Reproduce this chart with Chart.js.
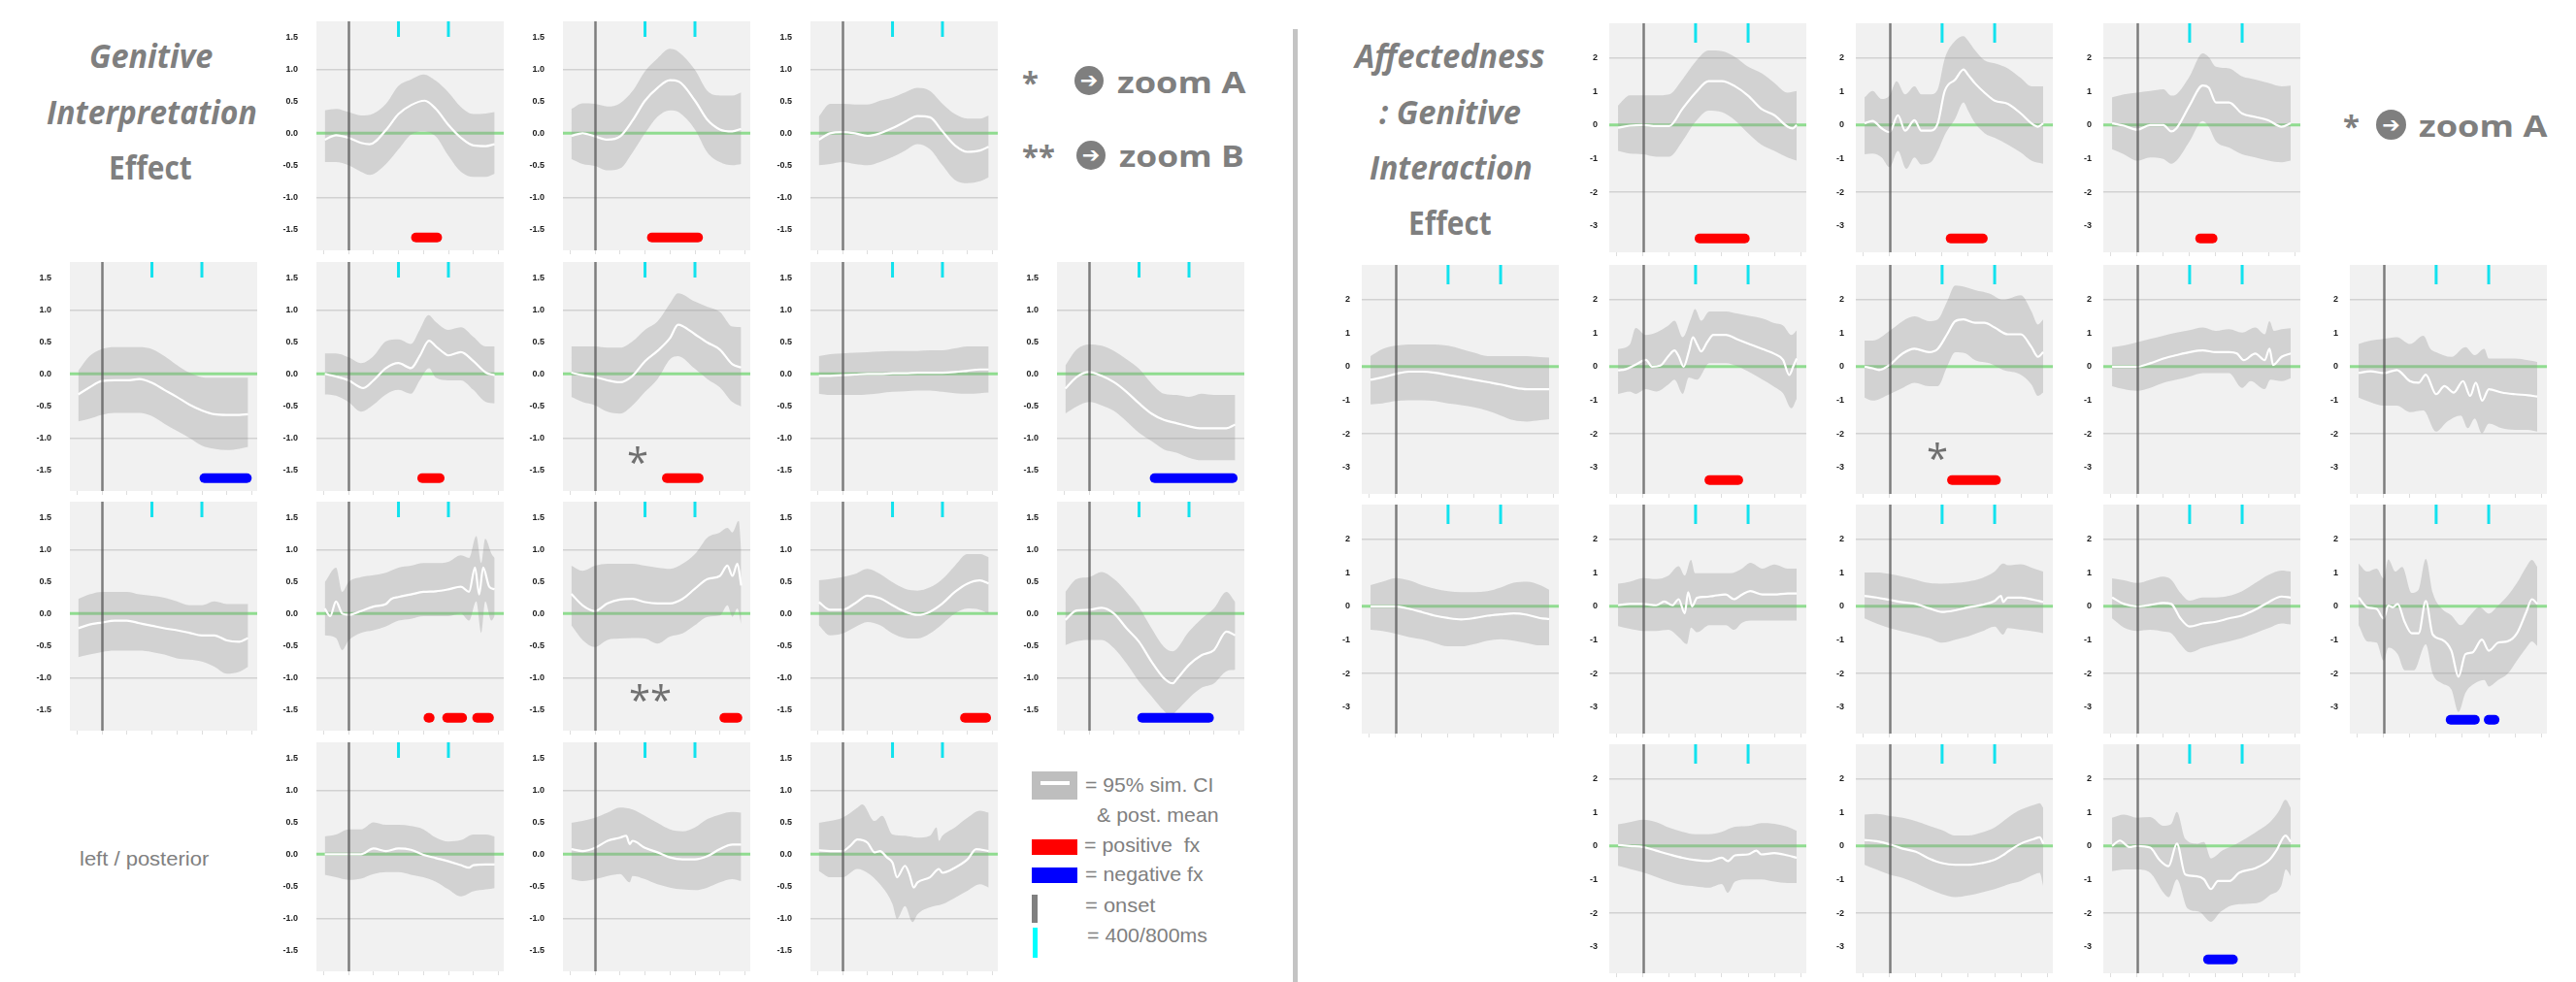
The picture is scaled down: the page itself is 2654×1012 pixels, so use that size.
<!DOCTYPE html>
<html><head><meta charset="utf-8">
<script src="https://cdn.jsdelivr.net/npm/chart.js@4.4.1/dist/chart.umd.min.js"></script>
<style>
html,body{margin:0;padding:0;background:#fff;}
body{width:2654px;height:1012px;position:relative;overflow:hidden;}
canvas{position:absolute;}
.t{position:absolute;white-space:nowrap;line-height:1;z-index:5;}
.arrowc{position:absolute;border-radius:50%;background:#7f7f7f;z-index:5;overflow:hidden;}
.arrowc span{position:absolute;left:0;top:0;width:100%;height:100%;display:flex;align-items:center;justify-content:center;color:#fff;font-family:'DejaVu Sans';font-weight:700;line-height:1;}
</style></head><body>
<script>
// ---------------- DATA ----------------
const G = [-190,-100,0,100,200,300,400,500,600,700,800,900,1000,1100,1170];
const zipG = ys => ys.map((y,i)=>[G[i],y]);

const xTickVals = [-200,0,200,400,600,800,1000,1200];
const leftTickVals = [-1.5,-1,-0.5,0,0.5,1,1.5];
const rightTickVals = [-3,-2,-1,0,1,2];
const leftGridVals = [-1,1];
const rightGridVals = [-2,2];
const cyanMarks = [400,800];
const onsetMs = 0;
const zeroLevel = 0;
const leftBarLevel = -1.63;
const rightBarLevel = -3.37;

// ---- Left panel: Genitive Interpretation Effect ----
const L01_mean=[[-190,-0.1],[-100,-0.03],[0,-0.07],[100,-0.15],[170,-0.17],[300,0.05],[400,0.3],[500,0.44],[610,0.51],[700,0.38],[800,0.13],[900,-0.07],[1000,-0.19],[1100,-0.2],[1170,-0.17]];
const L01_hi=[[-190,0.36],[-100,0.38],[0,0.33],[100,0.28],[200,0.31],[300,0.46],[400,0.74],[500,0.84],[600,0.92],[700,0.82],[800,0.64],[900,0.41],[1000,0.3],[1100,0.31],[1170,0.33]];
const L01_lo=[[-190,-0.45],[-100,-0.45],[0,-0.5],[100,-0.6],[170,-0.65],[300,-0.48],[400,-0.25],[500,-0.02],[600,0.03],[700,-0.05],[800,-0.35],[900,-0.6],[1000,-0.68],[1100,-0.68],[1170,-0.63]];
const L01_red=[[540,710]];

const L02_mean=[[-190,-0.04],[-100,0],[0,-0.05],[100,-0.1],[200,-0.05],[300,0.2],[400,0.51],[500,0.71],[600,0.83],[670,0.81],[800,0.51],[900,0.21],[1000,0.06],[1100,0.03],[1170,0.07]];
const L02_hi=[[-190,0.38],[-100,0.47],[0,0.46],[100,0.42],[200,0.47],[300,0.66],[400,0.97],[500,1.17],[600,1.32],[670,1.27],[800,0.99],[900,0.66],[1000,0.59],[1100,0.59],[1170,0.64]];
const L02_lo=[[-190,-0.4],[-100,-0.48],[0,-0.51],[100,-0.58],[200,-0.55],[300,-0.3],[400,0],[500,0.26],[600,0.36],[670,0.33],[800,0.06],[900,-0.3],[1000,-0.45],[1100,-0.5],[1170,-0.48]];
const L02_red=[[455,825]];

const L03_mean=zipG([-0.1,0,0.02,0,-0.04,0,0.08,0.18,0.27,0.25,0.03,-0.19,-0.29,-0.27,-0.21]);
const L03_hi=zipG([0.26,0.46,0.46,0.45,0.45,0.51,0.56,0.64,0.71,0.66,0.46,0.3,0.23,0.23,0.28]);
const L03_lo=zipG([-0.5,-0.48,-0.45,-0.48,-0.5,-0.45,-0.37,-0.27,-0.17,-0.25,-0.5,-0.73,-0.78,-0.75,-0.69]);

const L10_mean=zipG([-0.32,-0.21,-0.11,-0.1,-0.1,-0.08,-0.14,-0.25,-0.36,-0.48,-0.57,-0.63,-0.64,-0.64,-0.63]);
const L10_hi=zipG([0.05,0.28,0.39,0.42,0.42,0.42,0.39,0.28,0.14,0.02,-0.05,-0.06,-0.06,-0.06,-0.06]);
const L10_lo=zipG([-0.74,-0.7,-0.64,-0.61,-0.61,-0.61,-0.66,-0.78,-0.89,-1.0,-1.12,-1.17,-1.19,-1.17,-1.14]);
const L10_blue=[[820,1160]];

const L11_mean=[[-190,0],[-100,-0.04],[0,-0.1],[120,-0.22],[200,-0.1],[300,0.09],[400,0.17],[500,0.09],[570,0.28],[645,0.52],[700,0.43],[770,0.32],[800,0.29],[900,0.34],[1000,0.2],[1100,0.02],[1170,-0.02]];
const L11_hi=[[-190,0.32],[-100,0.32],[0,0.26],[100,0.17],[200,0.28],[300,0.51],[400,0.54],[500,0.47],[570,0.69],[640,0.92],[700,0.81],[800,0.69],[900,0.73],[1000,0.58],[1100,0.43],[1170,0.43]];
const L11_lo=[[-190,-0.32],[-100,-0.34],[0,-0.44],[100,-0.59],[200,-0.48],[300,-0.32],[400,-0.25],[500,-0.31],[570,-0.1],[645,0.09],[700,-0.06],[800,-0.1],[900,-0.1],[1000,-0.25],[1100,-0.44],[1170,-0.46]];
const L11_red=[[590,730]];

const L12_mean=[[-190,0.02],[-100,-0.02],[0,-0.05],[100,-0.1],[200,-0.13],[300,-0.03],[400,0.2],[500,0.36],[600,0.56],[665,0.77],[700,0.75],[800,0.62],[900,0.49],[1000,0.38],[1100,0.15],[1170,0.1]];
const L12_hi=[[-190,0.43],[-100,0.43],[0,0.43],[100,0.41],[200,0.41],[300,0.51],[400,0.69],[500,0.82],[600,1.1],[665,1.26],[800,1.13],[900,1.05],[1000,0.97],[1100,0.74],[1170,0.73]];
const L12_lo=[[-190,-0.36],[-100,-0.44],[0,-0.49],[100,-0.59],[200,-0.62],[300,-0.49],[400,-0.28],[500,-0.08],[600,0.23],[665,0.28],[800,0.08],[900,-0.08],[1000,-0.21],[1100,-0.44],[1170,-0.51]];
const L12_red=[[575,830]];

const L13_mean=zipG([-0.03,-0.03,-0.02,-0.01,0,0,0.01,0.01,0.02,0.02,0.02,0.03,0.05,0.07,0.07]);
const L13_hi=zipG([0.28,0.31,0.32,0.33,0.34,0.35,0.36,0.36,0.36,0.37,0.37,0.4,0.43,0.43,0.43]);
const L13_lo=zipG([-0.31,-0.33,-0.33,-0.33,-0.32,-0.3,-0.28,-0.27,-0.26,-0.26,-0.28,-0.3,-0.31,-0.3,-0.29]);

const L14_mean=zipG([-0.23,-0.05,0.03,-0.03,-0.13,-0.28,-0.46,-0.62,-0.72,-0.77,-0.82,-0.85,-0.85,-0.85,-0.79]);
const L14_hi=zipG([0.13,0.38,0.46,0.44,0.36,0.23,0.08,-0.15,-0.31,-0.33,-0.36,-0.31,-0.33,-0.33,-0.33]);
const L14_lo=zipG([-0.62,-0.51,-0.44,-0.49,-0.58,-0.74,-0.92,-1.05,-1.18,-1.23,-1.31,-1.35,-1.35,-1.35,-1.35]);
const L14_blue=[[525,1150]];

const L20_mean=zipG([-0.23,-0.17,-0.14,-0.11,-0.11,-0.15,-0.19,-0.23,-0.26,-0.3,-0.34,-0.34,-0.42,-0.44,-0.38]);
const L20_hi=zipG([0.23,0.3,0.34,0.34,0.34,0.3,0.28,0.25,0.19,0.13,0.13,0.19,0.15,0.15,0.15]);
const L20_lo=zipG([-0.68,-0.64,-0.6,-0.58,-0.58,-0.58,-0.6,-0.64,-0.7,-0.72,-0.75,-0.83,-0.94,-0.91,-0.83]);

const L21_mean=[[-190,0.08],[-147,-0.04],[-100,0.19],[-50,0],[0,-0.02],[100,0.04],[200,0.11],[300,0.15],[343,0.23],[400,0.26],[500,0.3],[600,0.34],[700,0.35],[800,0.38],[900,0.42],[965,0.34],[1013,0.72],[1046,0.3],[1078,0.72],[1127,0.42],[1170,0.38]];
const L21_hi=[[-190,0.49],[-100,0.72],[-50,0.34],[0,0.49],[100,0.57],[200,0.6],[300,0.64],[400,0.72],[500,0.75],[600,0.79],[700,0.79],[800,0.81],[900,0.91],[965,0.87],[1023,1.21],[1062,0.79],[1095,1.17],[1144,0.94],[1170,0.87]];
const L21_lo=[[-190,-0.34],[-100,-0.38],[-50,-0.57],[0,-0.42],[100,-0.3],[200,-0.26],[300,-0.2],[400,-0.11],[500,-0.08],[600,-0.04],[700,-0.04],[800,-0.04],[900,0],[965,-0.11],[1023,0.19],[1062,-0.3],[1095,0.19],[1144,-0.11],[1170,-0.04]];
const L21_red=[[640,650],[790,910],[1030,1125]];

const L22_mean=[[-190,0.31],[-100,0.13],[0,0.04],[100,0.16],[200,0.22],[300,0.23],[400,0.18],[500,0.16],[600,0.16],[700,0.23],[800,0.39],[900,0.54],[1000,0.59],[1060,0.75],[1100,0.59],[1140,0.78],[1170,0.44]];
const L22_hi=[[-190,0.75],[-100,0.67],[0,0.75],[100,0.78],[200,0.78],[300,0.78],[400,0.75],[500,0.72],[600,0.7],[700,0.78],[800,0.93],[900,1.19],[1000,1.27],[1060,1.34],[1100,1.27],[1150,1.45],[1170,1.01]];
const L22_lo=[[-190,-0.18],[-100,-0.41],[0,-0.52],[100,-0.41],[200,-0.39],[300,-0.38],[400,-0.39],[500,-0.47],[600,-0.36],[700,-0.31],[800,-0.18],[900,-0.05],[1000,-0.03],[1060,0.13],[1100,-0.05],[1140,0.08],[1170,-0.16]];
const L22_red=[[1035,1140]];

const L23_mean=zipG([0.18,0.06,0.06,0.16,0.28,0.24,0.13,0.03,-0.02,0.03,0.16,0.34,0.47,0.52,0.47]);
const L23_hi=zipG([0.52,0.54,0.57,0.62,0.7,0.62,0.49,0.39,0.36,0.41,0.54,0.75,0.93,0.93,0.88]);
const L23_lo=zipG([-0.18,-0.34,-0.31,-0.21,-0.13,-0.18,-0.31,-0.38,-0.39,-0.31,-0.16,0,0.08,0.06,0]);
const L23_red=[[980,1150]];

const L24_mean=[[-190,-0.1],[-100,0.05],[0,0.06],[100,0.09],[200,0],[300,-0.23],[400,-0.44],[500,-0.75],[600,-1.01],[670,-1.09],[700,-1.03],[800,-0.8],[900,-0.65],[1000,-0.57],[1100,-0.28],[1170,-0.34]];
const L24_hi=[[-190,0.34],[-100,0.54],[0,0.57],[100,0.65],[200,0.54],[300,0.34],[400,0.1],[500,-0.23],[600,-0.52],[670,-0.59],[800,-0.28],[900,-0.08],[1000,0.08],[1100,0.34],[1170,0.18]];
const L24_lo=[[-190,-0.49],[-100,-0.43],[0,-0.41],[100,-0.41],[200,-0.54],[300,-0.78],[400,-1.06],[500,-1.29],[600,-1.52],[650,-1.6],[700,-1.52],[800,-1.32],[900,-1.16],[1000,-1.09],[1100,-0.9],[1170,-0.88]];
const L24_blue=[[425,960]];

const L31_mean=[[-190,0],[-100,0],[0,0],[100,0],[200,0.09],[300,0.05],[400,0.09],[500,0.07],[600,-0.01],[700,-0.06],[800,-0.11],[900,-0.17],[965,-0.21],[1000,-0.17],[1100,-0.16],[1170,-0.16]];
const L31_hi=zipG([0.28,0.31,0.39,0.39,0.5,0.46,0.46,0.44,0.39,0.26,0.2,0.22,0.31,0.31,0.28]);
const L31_lo=zipG([-0.32,-0.36,-0.4,-0.38,-0.31,-0.28,-0.28,-0.32,-0.36,-0.43,-0.55,-0.66,-0.58,-0.55,-0.53]);

const L32_mean=[[-190,0.08],[-100,0.05],[0,0.1],[100,0.21],[200,0.26],[250,0.29],[277,0.16],[300,0.21],[400,0.1],[500,0.03],[600,-0.05],[700,-0.08],[800,-0.08],[900,-0.03],[1000,0.08],[1100,0.15],[1170,0.15]];
const L32_hi=zipG([0.49,0.52,0.57,0.65,0.73,0.7,0.6,0.49,0.39,0.36,0.42,0.55,0.62,0.66,0.65]);
const L32_lo=[[-190,-0.39],[-100,-0.42],[0,-0.39],[100,-0.34],[200,-0.31],[277,-0.44],[300,-0.34],[400,-0.39],[500,-0.47],[600,-0.52],[700,-0.55],[800,-0.56],[900,-0.52],[1000,-0.44],[1100,-0.39],[1170,-0.42]];

const L33_mean=[[-190,0.06],[-100,0.05],[0,0.05],[60,0.13],[120,0.23],[200,0.18],[257,0.03],[300,0.05],[356,-0.05],[400,-0.13],[436,-0.36],[500,-0.18],[535,-0.31],[570,-0.52],[600,-0.44],[700,-0.36],[772,-0.23],[800,-0.29],[900,-0.21],[1000,-0.08],[1070,0.08],[1170,0.05]];
const L33_hi=[[-190,0.49],[-100,0.52],[0,0.57],[120,0.73],[158,0.78],[257,0.52],[317,0.6],[400,0.31],[500,0.29],[600,0.26],[700,0.29],[752,0.42],[772,0.21],[800,0.29],[900,0.42],[1000,0.57],[1100,0.68],[1170,0.65]];
const L33_lo=[[-190,-0.26],[-100,-0.36],[0,-0.36],[120,-0.23],[200,-0.29],[300,-0.47],[400,-0.78],[436,-1.01],[500,-0.81],[562,-1.06],[600,-0.94],[700,-0.83],[800,-0.78],[900,-0.68],[1000,-0.57],[1100,-0.47],[1170,-0.52]];

// ---- Right panel: Affectedness : Genitive Interaction Effect ----
const R01_mean=[[-190,-0.08],[-100,-0.02],[0,0],[100,-0.03],[200,-0.03],[300,0.48],[400,0.96],[500,1.3],[600,1.3],[700,1.15],[800,0.87],[900,0.48],[1000,0.29],[1100,-0.05],[1140,-0.1],[1170,0]];
const R01_hi=zipG([0.58,0.88,0.88,0.88,0.91,1.35,1.88,2.21,2.19,2.02,1.73,1.54,1.25,0.96,1.01]);
const R01_lo=zipG([-0.77,-0.85,-0.87,-0.94,-0.94,-0.48,0.1,0.43,0.38,0.14,-0.24,-0.58,-0.77,-0.96,-1.06]);
const R01_red=[[430,775]];

const R02_mean=[[-190,0.05],[-130,0.12],[-60,-0.1],[0,-0.21],[64,0.29],[118,-0.17],[190,0.14],[242,-0.17],[313,-0.17],[367,0.05],[420,1.01],[500,1.35],[563,1.65],[598,1.49],[652,1.23],[723,0.96],[800,0.72],[900,0.63],[1000,0.34],[1080,0.05],[1130,-0.05],[1170,0.05]];
const R02_hi=[[-190,0.82],[-130,1.01],[-60,0.77],[0,0.87],[53,1.3],[118,0.91],[190,1.15],[242,0.91],[313,0.91],[367,1.06],[420,1.97],[500,2.5],[563,2.64],[598,2.5],[652,2.21],[723,1.92],[800,1.83],[900,1.68],[1000,1.39],[1080,1.15],[1170,1.15]];
const R02_lo=[[-190,-0.87],[-130,-0.85],[-60,-0.96],[0,-1.25],[64,-0.77],[128,-1.3],[190,-0.96],[242,-1.17],[313,-1.11],[367,-0.77],[420,-0.29],[500,0.19],[563,0.67],[598,0.43],[652,0.05],[723,-0.24],[800,-0.38],[900,-0.58],[1000,-0.82],[1080,-1.06],[1170,-1.15]];
const R02_red=[[465,710]];

const R03_mean=[[-190,0.05],[-100,-0.02],[0,-0.14],[100,0],[200,0],[260,-0.19],[300,-0.1],[400,0.58],[500,1.17],[545,1.11],[600,0.67],[700,0.67],[800,0.34],[900,0.24],[1000,0.14],[1100,-0.05],[1170,0.05]];
const R03_hi=[[-190,0.82],[-100,0.91],[0,0.96],[100,1.01],[200,1.06],[260,0.87],[300,0.91],[400,1.44],[500,2.13],[545,2.02],[600,1.73],[700,1.68],[800,1.44],[900,1.35],[1000,1.25],[1100,1.15],[1170,1.17]];
const R03_lo=[[-190,-0.72],[-100,-0.87],[0,-1.06],[100,-0.96],[200,-1.01],[260,-1.15],[300,-1.06],[400,-0.48],[500,0.12],[545,-0.05],[600,-0.48],[700,-0.67],[800,-0.87],[900,-0.96],[1000,-1.06],[1100,-1.11],[1170,-1.06]];
const R03_red=[[480,575]];

const R10_mean=zipG([-0.39,-0.32,-0.22,-0.15,-0.15,-0.18,-0.25,-0.32,-0.39,-0.46,-0.53,-0.62,-0.67,-0.67,-0.67]);
const R10_hi=zipG([0.31,0.52,0.62,0.66,0.66,0.66,0.62,0.52,0.41,0.31,0.31,0.31,0.31,0.28,0.27]);
const R10_lo=zipG([-1.12,-1.09,-1.02,-1.0,-1.0,-1.02,-1.09,-1.14,-1.21,-1.31,-1.45,-1.59,-1.63,-1.59,-1.56]);

const R11_mean=[[-190,-0.11],[-134,-0.08],[-56,0.06],[22,0.2],[69,0],[131,0.03],[193,0.31],[240,0.48],[271,0.31],[309,0],[349,0.45],[380,0.87],[411,0.66],[443,0.45],[489,0.73],[536,0.94],[630,0.94],[723,0.8],[817,0.66],[910,0.52],[1000,0.38],[1066,0.2],[1113,-0.25],[1146,0.03],[1170,0.24]];
const R11_hi=[[-190,0.52],[-100,0.66],[-56,1.15],[22,0.94],[100,1.01],[193,1.22],[240,1.36],[302,0.87],[365,1.43],[396,1.71],[443,1.36],[505,1.64],[630,1.64],[723,1.57],[817,1.5],[910,1.43],[1000,1.29],[1066,1.22],[1130,0.94],[1170,1.08]];
const R11_lo=[[-190,-0.81],[-100,-0.74],[-56,-0.81],[22,-0.67],[100,-0.74],[193,-0.53],[240,-0.39],[302,-0.81],[349,-0.32],[411,-0.39],[505,0.1],[630,0.1],[723,0],[817,-0.18],[910,-0.39],[1000,-0.6],[1066,-0.79],[1130,-1.24],[1170,-0.95]];
const R11_red=[[505,725]];

const R12_mean=[[-190,0],[-130,-0.05],[-80,-0.1],[0,0.05],[100,0.39],[190,0.53],[300,0.43],[367,0.53],[438,0.96],[500,1.35],[563,1.4],[652,1.3],[723,1.3],[800,1.16],[900,0.96],[1000,0.96],[1080,0.58],[1130,0.29],[1170,0.43]];
const R12_hi=[[-190,0.77],[-130,0.77],[0,1.06],[100,1.35],[190,1.49],[300,1.35],[367,1.4],[438,1.93],[500,2.41],[580,2.36],[652,2.27],[760,2.17],[865,1.98],[1000,2.12],[1080,1.64],[1130,1.25],[1170,1.4]];
const R12_lo=[[-190,-0.92],[-130,-1.01],[0,-0.82],[100,-0.63],[190,-0.48],[300,-0.58],[367,-0.58],[438,0],[500,0.43],[580,0.39],[652,0.19],[760,0.1],[865,-0.1],[1000,-0.24],[1080,-0.53],[1130,-0.87],[1170,-0.77]];
const R12_red=[[475,810]];

const R13_mean=[[-190,0],[-100,0],[0,0],[100,0.1],[200,0.24],[300,0.34],[400,0.43],[500,0.48],[600,0.43],[700,0.43],[760,0.39],[812,0.19],[900,0.39],[972,0.19],[1008,0.53],[1036,0.05],[1100,0.29],[1170,0.39]];
const R13_hi=[[-190,0.58],[-100,0.63],[0,0.72],[100,0.82],[200,0.92],[300,1.01],[400,1.08],[500,1.16],[600,1.06],[700,1.11],[800,1.01],[900,1.16],[972,0.96],[1008,1.35],[1043,1.06],[1100,1.11],[1170,1.14]];
const R13_lo=[[-190,-0.58],[-100,-0.67],[0,-0.72],[100,-0.63],[200,-0.48],[300,-0.39],[400,-0.29],[500,-0.19],[600,-0.19],[700,-0.19],[800,-0.63],[865,-0.43],[972,-0.67],[1015,-0.39],[1100,-0.43],[1170,-0.34]];

const R14_mean=[[-190,-0.19],[-100,-0.14],[0,-0.19],[100,-0.1],[200,-0.43],[267,-0.48],[321,-0.24],[400,-0.82],[463,-0.58],[534,-0.77],[605,-0.43],[659,-0.87],[702,-0.48],[751,-1.01],[801,-0.67],[900,-0.77],[1000,-0.82],[1100,-0.85],[1170,-0.89]];
const R14_hi=[[-190,0.67],[-100,0.77],[0,0.82],[100,0.87],[200,0.67],[303,0.92],[356,0.53],[400,0.43],[516,0.29],[623,0.58],[694,0.34],[766,0.53],[801,0.24],[900,0.24],[1000,0.24],[1100,0.19],[1170,0.14]];
const R14_lo=[[-190,-0.92],[-100,-1.06],[0,-1.16],[100,-1.16],[200,-1.35],[303,-1.3],[400,-1.93],[481,-1.64],[588,-1.45],[641,-1.83],[694,-1.54],[748,-1.98],[801,-1.69],[900,-1.83],[1000,-1.88],[1100,-1.88],[1170,-1.93]];

const R20_mean=zipG([0,0,0,-0.07,-0.17,-0.28,-0.35,-0.39,-0.35,-0.28,-0.24,-0.21,-0.25,-0.35,-0.38]);
const R20_hi=zipG([0.63,0.73,0.84,0.77,0.63,0.52,0.45,0.42,0.42,0.45,0.56,0.7,0.73,0.63,0.49]);
const R20_lo=zipG([-0.7,-0.73,-0.81,-0.91,-0.98,-1.09,-1.19,-1.19,-1.12,-1.02,-0.98,-1.02,-1.09,-1.16,-1.16]);

const R21_mean=[[-190,0.03],[-100,0.07],[0,0.07],[100,0.03],[162,0.14],[224,0.03],[271,0.21],[318,-0.21],[343,0.42],[374,0],[411,0.25],[474,0.28],[536,0.31],[630,0.35],[692,0.21],[754,0.35],[817,0.45],[910,0.35],[1000,0.35],[1100,0.38],[1170,0.38]];
const R21_hi=[[-190,0.67],[-100,0.73],[0,0.84],[100,0.81],[193,0.91],[271,1.19],[318,0.91],[365,1.38],[396,0.98],[474,0.98],[567,0.98],[661,0.98],[754,1.12],[817,1.29],[910,1.12],[1000,1.24],[1100,1.12],[1170,1.12]];
const R21_lo=[[-190,-0.59],[-100,-0.67],[0,-0.73],[100,-0.73],[193,-0.7],[271,-0.91],[334,-1.12],[365,-0.63],[411,-0.77],[505,-0.56],[630,-0.56],[692,-0.7],[754,-0.49],[817,-0.42],[910,-0.42],[1000,-0.42],[1100,-0.42],[1170,-0.42]];

const R22_mean=[[-190,0.31],[-100,0.26],[0,0.19],[100,0.12],[200,0.07],[300,-0.06],[400,-0.17],[500,-0.12],[600,-0.03],[700,0.04],[800,0.16],[848,0.31],[865,0.13],[900,0.26],[1000,0.26],[1100,0.19],[1170,0.13]];
const R22_hi=[[-190,1.0],[-100,1.0],[0,0.96],[100,0.88],[200,0.79],[300,0.69],[400,0.67],[500,0.69],[600,0.74],[700,0.83],[800,1.03],[865,1.27],[900,1.22],[1000,1.25],[1100,1.12],[1170,1.03]];
const R22_lo=[[-190,-0.36],[-100,-0.51],[0,-0.65],[100,-0.75],[200,-0.84],[300,-0.94],[400,-1.08],[500,-0.99],[600,-0.89],[700,-0.75],[800,-0.6],[865,-0.84],[900,-0.65],[1000,-0.7],[1100,-0.75],[1170,-0.8]];

const R23_mean=[[-190,0.26],[-100,0.07],[0,0],[100,0.04],[200,0.1],[260,0.07],[330,-0.36],[400,-0.6],[500,-0.51],[600,-0.46],[700,-0.36],[800,-0.27],[900,-0.1],[1000,0.12],[1100,0.29],[1170,0.26]];
const R23_hi=[[-190,0.83],[-100,0.77],[0,0.69],[100,0.79],[200,0.88],[260,0.79],[330,0.4],[400,0.17],[500,0.26],[600,0.26],[700,0.31],[800,0.45],[900,0.69],[1000,0.93],[1100,1.06],[1170,1.03]];
const R23_lo=[[-190,-0.36],[-100,-0.63],[0,-0.73],[100,-0.7],[200,-0.75],[260,-0.8],[330,-1.13],[400,-1.37],[500,-1.23],[600,-1.13],[700,-1.04],[800,-0.94],[900,-0.8],[1000,-0.65],[1100,-0.51],[1170,-0.54]];

const R24_mean=[[-190,0.26],[-125,-0.03],[-53,-0.08],[0,-0.36],[36,0.02],[71,-0.03],[107,0.07],[160,-0.46],[214,-0.8],[267,-0.8],[321,0.16],[374,-0.84],[445,-0.99],[516,-1.32],[570,-2.09],[623,-1.42],[677,-1.37],[748,-0.99],[801,-1.32],[872,-1.08],[944,-1.04],[1015,-0.8],[1086,-0.17],[1129,0.21],[1170,0.07]];
const R24_hi=[[-190,1.27],[-125,1.03],[-53,1.12],[0,0.83],[36,1.39],[89,1.03],[142,1.17],[214,0.4],[267,0.5],[321,1.41],[374,0.4],[445,-0.08],[516,-0.27],[588,-0.56],[659,-0.27],[730,-0.03],[801,-0.22],[872,0.02],[944,0.31],[1015,0.69],[1086,1.17],[1129,1.38],[1170,1.17]];
const R24_lo=[[-190,-0.56],[-125,-1.04],[-53,-1.08],[0,-1.61],[36,-1.23],[107,-1.42],[160,-1.9],[231,-1.9],[321,-1.13],[374,-2.0],[445,-2.29],[516,-2.47],[570,-3.14],[623,-2.57],[694,-2.29],[766,-2.19],[801,-2.38],[872,-2.19],[944,-2.0],[1015,-1.61],[1086,-1.23],[1129,-1.04],[1170,-1.18]];
const R24_blue=[[510,695],[800,845]];

const R31_mean=[[-190,0.03],[-100,0],[0,-0.03],[100,-0.14],[200,-0.25],[300,-0.35],[400,-0.42],[500,-0.45],[600,-0.35],[645,-0.45],[700,-0.28],[800,-0.25],[863,-0.14],[900,-0.25],[1000,-0.21],[1100,-0.28],[1170,-0.35]];
const R31_hi=zipG([0.64,0.71,0.78,0.71,0.54,0.42,0.35,0.35,0.42,0.57,0.59,0.68,0.66,0.57,0.45]);
const R31_lo=[[-190,-0.59],[-100,-0.68],[0,-0.78],[100,-0.92],[200,-1.06],[300,-1.16],[400,-1.2],[500,-1.24],[600,-1.13],[645,-1.39],[700,-1.06],[800,-0.99],[900,-0.99],[1000,-1.06],[1100,-1.1],[1170,-1.1]];

const R32_mean=[[-190,0.18],[-100,0.14],[0,0.05],[100,-0.08],[200,-0.17],[300,-0.37],[400,-0.51],[500,-0.56],[600,-0.56],[700,-0.51],[800,-0.41],[865,-0.27],[900,-0.17],[1000,0.07],[1100,0.21],[1143,0.26],[1170,0.07]];
const R32_hi=[[-190,0.93],[-100,0.95],[0,0.89],[100,0.84],[200,0.74],[300,0.6],[400,0.47],[500,0.31],[600,0.31],[700,0.4],[800,0.55],[900,0.84],[1000,1.08],[1100,1.22],[1143,1.27],[1170,1.13]];
const R32_lo=[[-190,-0.56],[-100,-0.7],[0,-0.85],[100,-0.95],[200,-1.1],[300,-1.28],[400,-1.43],[500,-1.52],[600,-1.47],[700,-1.38],[800,-1.28],[900,-1.14],[1000,-1.04],[1100,-0.85],[1143,-0.8],[1170,-1.19]];

const R33_mean=[[-190,0],[-130,0.16],[-60,-0.03],[0,0],[100,-0.05],[170,-0.41],[240,-0.6],[303,0.07],[367,-0.85],[456,-0.9],[509,-0.99],[563,-1.28],[616,-1.04],[705,-1.04],[776,-0.8],[900,-0.66],[1008,-0.41],[1061,-0.13],[1130,0.31],[1170,0.12]];
const R33_hi=[[-190,0.84],[-100,0.93],[0,0.84],[100,0.86],[200,0.6],[260,0.65],[303,1.01],[367,0.21],[456,0.07],[509,0.12],[563,-0.37],[652,-0.13],[759,0.07],[900,0.4],[1008,0.69],[1079,1.03],[1130,1.37],[1170,1.13]];
const R33_lo=[[-190,-0.75],[-100,-0.7],[0,-0.7],[100,-0.8],[200,-1.38],[242,-1.52],[303,-0.99],[385,-1.86],[474,-1.96],[563,-2.25],[634,-1.96],[723,-1.76],[830,-1.72],[937,-1.67],[1008,-1.47],[1097,-1.19],[1132,-0.7],[1170,-0.9]];
const R33_blue=[[540,730]];

// ---------------- LAYOUT / STYLE ----------------
const X_MIN=-257, X_MAX=1243;
const PLOT_BG='#f1f1f1', BAND='rgba(150,150,150,0.34)';
const panels={
  left:{cols:[72,326,580,835,1089], rows:[22,270,517,765], plotW:193, plotH:236, axisW:50, pad:19,
        yMin:-1.83, yMax:1.75, ticks:leftTickVals, gridVals:leftGridVals, fmt:v=>v.toFixed(1), barY:leftBarLevel, cyanLen:16},
  right:{cols:[1403,1658,1912,2167,2421], rows:[24,273,520,767], plotW:203, plotH:236, axisW:50, pad:12,
        yMin:-3.78, yMax:3.02, ticks:rightTickVals, gridVals:rightGridVals, fmt:v=>String(v), barY:rightBarLevel, cyanLen:20}
};
const plots=[
 ['left',0,1,L01_mean,L01_hi,L01_lo,L01_red,[]],
 ['left',0,2,L02_mean,L02_hi,L02_lo,L02_red,[]],
 ['left',0,3,L03_mean,L03_hi,L03_lo,[],[]],
 ['left',1,0,L10_mean,L10_hi,L10_lo,[],L10_blue],
 ['left',1,1,L11_mean,L11_hi,L11_lo,L11_red,[]],
 ['left',1,2,L12_mean,L12_hi,L12_lo,L12_red,[]],
 ['left',1,3,L13_mean,L13_hi,L13_lo,[],[]],
 ['left',1,4,L14_mean,L14_hi,L14_lo,[],L14_blue],
 ['left',2,0,L20_mean,L20_hi,L20_lo,[],[]],
 ['left',2,1,L21_mean,L21_hi,L21_lo,L21_red,[]],
 ['left',2,2,L22_mean,L22_hi,L22_lo,L22_red,[]],
 ['left',2,3,L23_mean,L23_hi,L23_lo,L23_red,[]],
 ['left',2,4,L24_mean,L24_hi,L24_lo,[],L24_blue],
 ['left',3,1,L31_mean,L31_hi,L31_lo,[],[]],
 ['left',3,2,L32_mean,L32_hi,L32_lo,[],[]],
 ['left',3,3,L33_mean,L33_hi,L33_lo,[],[]],
 ['right',0,1,R01_mean,R01_hi,R01_lo,R01_red,[]],
 ['right',0,2,R02_mean,R02_hi,R02_lo,R02_red,[]],
 ['right',0,3,R03_mean,R03_hi,R03_lo,R03_red,[]],
 ['right',1,0,R10_mean,R10_hi,R10_lo,[],[]],
 ['right',1,1,R11_mean,R11_hi,R11_lo,R11_red,[]],
 ['right',1,2,R12_mean,R12_hi,R12_lo,R12_red,[]],
 ['right',1,3,R13_mean,R13_hi,R13_lo,[],[]],
 ['right',1,4,R14_mean,R14_hi,R14_lo,[],[]],
 ['right',2,0,R20_mean,R20_hi,R20_lo,[],[]],
 ['right',2,1,R21_mean,R21_hi,R21_lo,[],[]],
 ['right',2,2,R22_mean,R22_hi,R22_lo,[],[]],
 ['right',2,3,R23_mean,R23_hi,R23_lo,[],[]],
 ['right',2,4,R24_mean,R24_hi,R24_lo,[],R24_blue],
 ['right',3,1,R31_mean,R31_hi,R31_lo,[],[]],
 ['right',3,2,R32_mean,R32_hi,R32_lo,[],[]],
 ['right',3,3,R33_mean,R33_hi,R33_lo,[],R33_blue]
];

const pts=a=>a.map(p=>({x:p[0],y:p[1]}));

const decor={
  id:'decor',
  beforeDraw(ch){const a=ch.chartArea,c=ch.ctx;c.save();c.fillStyle=PLOT_BG;c.fillRect(a.left,a.top,a.right-a.left,a.bottom-a.top);c.restore();},
  beforeDatasetsDraw(ch){
    const a=ch.chartArea,c=ch.ctx,y=ch.scales.y.getPixelForValue(zeroLevel);
    c.save();c.strokeStyle='#90dc90';c.lineWidth=3;c.beginPath();c.moveTo(a.left,y);c.lineTo(a.right,y);c.stroke();c.restore();
  },
  afterDatasetsDraw(ch){
    const a=ch.chartArea,c=ch.ctx,sx=ch.scales.x,o=ch.options.plugins.decor;
    c.save();
    const x0=Math.round(sx.getPixelForValue(onsetMs))+0.5;
    c.strokeStyle='rgba(80,80,80,0.72)';c.lineWidth=2.5;c.beginPath();c.moveTo(x0,a.top);c.lineTo(x0,a.bottom);c.stroke();
    c.strokeStyle='#12e2ee';c.lineWidth=3;
    cyanMarks.forEach(m=>{const x=sx.getPixelForValue(m);c.beginPath();c.moveTo(x,a.top);c.lineTo(x,a.top+o.cyanLen);c.stroke();});
    c.restore();
  }
};

function barDs(seg,color,level){
  return {data:[{x:seg[0],y:level},{x:seg[1],y:level}],borderColor:color,borderWidth:10,borderCapStyle:'round',pointRadius:0,fill:false,order:0};
}
function noPad(s){s.paddingTop=0;s.paddingBottom=0;s.paddingLeft=0;s.paddingRight=0;}

plots.forEach(p=>{
  const P=panels[p[0]], r=p[1], col=p[2];
  const gl=P.cols[col], gt=P.rows[r];
  const W=P.axisW+P.plotW, H=P.plotH+10;
  const cv=document.createElement('canvas');
  cv.width=W;cv.height=H;
  cv.style.left=(gl-P.axisW)+'px';cv.style.top=gt+'px';cv.style.width=W+'px';cv.style.height=H+'px';
  document.body.appendChild(cv);
  const ds=[
    {data:pts(p[4]),fill:'+1',backgroundColor:BAND,borderWidth:0,borderColor:'rgba(0,0,0,0)',pointRadius:0,cubicInterpolationMode:'monotone',order:5},
    {data:pts(p[5]),fill:false,borderWidth:0,borderColor:'rgba(0,0,0,0)',pointRadius:0,cubicInterpolationMode:'monotone',order:6},
    {data:pts(p[3]),fill:false,borderColor:'#ffffff',borderWidth:2.2,pointRadius:0,cubicInterpolationMode:'monotone',order:1}
  ];
  p[6].forEach(s=>ds.push(barDs(s,'#ff0000',P.barY)));
  p[7].forEach(s=>ds.push(barDs(s,'#0000ff',P.barY)));
  new Chart(cv,{type:'line',data:{datasets:ds},plugins:[decor],options:{
    responsive:false,animation:false,events:[],devicePixelRatio:1,
    layout:{padding:0,autoPadding:false},
    plugins:{legend:{display:false},tooltip:{enabled:false},decor:{cyanLen:P.cyanLen}},
    scales:{
      x:{type:'linear',min:X_MIN,max:X_MAX,
         afterBuildTicks:s=>{s.ticks=xTickVals.map(v=>({value:v}));},
         afterFit:s=>{s.height=10;noPad(s);},
         ticks:{display:false},
         grid:{drawOnChartArea:false,drawTicks:true,tickLength:4,color:'#dedede'},
         border:{display:false}},
      y:{type:'linear',min:P.yMin,max:P.yMax,
         afterBuildTicks:s=>{s.ticks=P.ticks.map(v=>({value:v}));},
         afterFit:s=>{s.width=P.axisW;noPad(s);},
         ticks:{padding:P.pad,color:'#1e1e1e',font:{family:'Liberation Sans',size:9,weight:'bold'},callback:v=>P.fmt(v)},
         grid:{drawTicks:false,lineWidth:1.5,color:ctx=>(ctx.tick&&P.gridVals.includes(ctx.tick.value))?'#d2d2d2':'rgba(0,0,0,0)'},
         border:{display:false}}
    }
  }});
});

// ---------------- TEXT ----------------
// [text, x (left or centre), baseline y, target width, font-size, family, weight, style, colour, align]
const OS='Open Sans', LS='Liberation Sans';
const texts=[
 ['Genitive',155,70,127,34,OS,700,'italic','#7f7f7f','c'],
 ['Interpretation',156,128,217,34,OS,700,'italic','#7f7f7f','c'],
 ['Effect',155,185,86,34,OS,700,'normal','#7f7f7f','c'],
 ['Affectedness',1494,70,196,34,OS,700,'italic','#7f7f7f','c'],
 [': Genitive',1494,128,146,34,OS,700,'italic','#7f7f7f','c'],
 ['Interaction',1495,185,168,34,OS,700,'italic','#7f7f7f','c'],
 ['Effect',1494,242,86,34,OS,700,'normal','#7f7f7f','c'],
 ['*',1053,97,0,31,OS,700,'normal','#7f7f7f','l'],
 ['zoom A',1151,97,132,31,OS,700,'normal','#7f7f7f','l'],
 ['**',1053,173,0,31,OS,700,'normal','#7f7f7f','l'],
 ['zoom B',1153,173,129,31,OS,700,'normal','#7f7f7f','l'],
 ['*',2414,142,0,31,OS,700,'normal','#7f7f7f','l'],
 ['zoom A',2492,142,132,31,OS,700,'normal','#7f7f7f','l'],
 ['*',657,492,0,40,OS,400,'normal','#707070','c'],
 ['**',670,737,0,40,OS,400,'normal','#707070','c'],
 ['*',1996,488,0,40,OS,400,'normal','#707070','c'],
 ['left / posterior',82,892,133,21,LS,400,'normal','#808080','l'],
 ['= 95% sim. CI',1118,816,132,21,LS,400,'normal','#808080','l'],
 ['& post. mean',1130,847,126,21,LS,400,'normal','#808080','l'],
 ['= positive\u00a0\u00a0fx',1117,878,119,21,LS,400,'normal','#808080','l'],
 ['= negative fx',1118,908,122,21,LS,400,'normal','#808080','l'],
 ['= onset',1118,940,72,21,LS,400,'normal','#808080','l'],
 ['= 400/800ms',1120,971,124,21,LS,400,'normal','#808080','l']
];
const ascent={'Open Sans':0.888,'Liberation Sans':0.8465};
texts.forEach(t=>{
  const d=document.createElement('div');
  d.className='t';d.textContent=t[0];
  d.style.fontFamily="'"+t[5]+"'";d.style.fontSize=t[4]+'px';d.style.fontWeight=t[6];d.style.fontStyle=t[7];d.style.color=t[8];
  document.body.appendChild(d);
  const w=d.offsetWidth;
  const left=t[9]==='c'?t[1]-w/2:t[1];
  d.style.left=left+'px';
  d.style.top=(t[2]-ascent[t[5]]*t[4])+'px';
  d.style.transformOrigin=t[9]==='c'?'50% 50%':'0 50%';
  if(t[3]) d.style.transform='scaleX('+(t[3]/w).toFixed(3)+')';
});
// circled-arrow symbols: [left, top, diameter]
[[1107,68,30],[1109,145,30],[2448,113,31]].forEach(a=>{
  const d=document.createElement('div');d.className='arrowc';
  d.style.cssText+='left:'+a[0]+'px;top:'+a[1]+'px;width:'+a[2]+'px;height:'+a[2]+'px;';
  const s=document.createElement('span');s.textContent='\u2794';s.style.fontSize=Math.round(a[2]*0.72)+'px';
  d.appendChild(s);document.body.appendChild(d);
});

// legend swatches and separator (static decorations)
const boxes=[
 [1063,795,47,29,'#bebebe'],[1072,805,30,4,'#ffffff'],
 [1063,865,47,16,'#ff0000'],[1063,894,47,16,'#0000ff'],
 [1063,922,6,29,'#808080'],[1064,956,5,31,'#00ffff'],
 [1332,30,5,982,'#c4c4c4']
];
boxes.forEach(b=>{const d=document.createElement('div');d.style.cssText='position:absolute;left:'+b[0]+'px;top:'+b[1]+'px;width:'+b[2]+'px;height:'+b[3]+'px;background:'+b[4]+';z-index:4';document.body.appendChild(d);});
</script>
</body></html>
